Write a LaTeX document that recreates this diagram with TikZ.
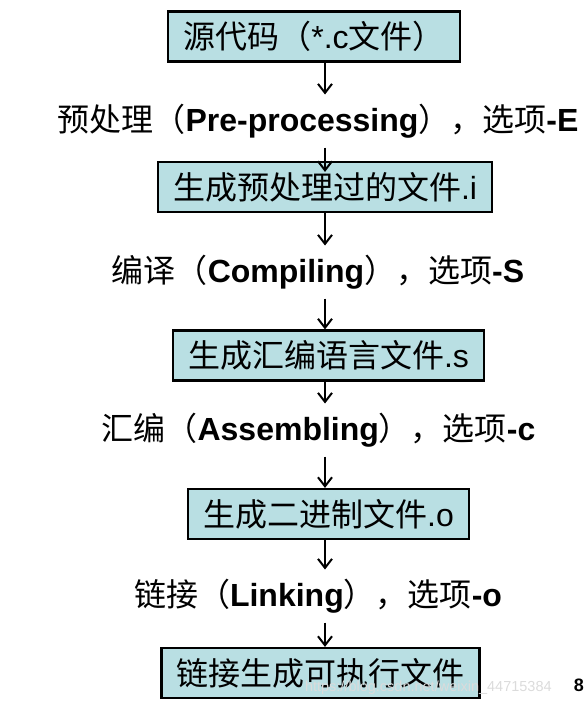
\documentclass[tikz,border=0pt]{standalone}
\usepackage{fontspec}
\setmainfont{Liberation Sans}
\newfontfamily\cjk{Noto Sans CJK SC}
\usepackage{tikz}
\usetikzlibrary{arrows.meta}
\usetikzlibrary{calc}
\definecolor{boxfill}{RGB}{185,223,227}
\newcommand{\zh}[1]{{\cjk #1}}

\begin{document}
\begin{tikzpicture}[x=1pt, y=-1pt, line width=2pt,
        node_style/.style={rectangle,draw=black,fill=boxfill,line width=2.2pt,minimum height=50pt,inner xsep=15pt,inner ysep=0pt,font=\fontsize{32}{36}\selectfont},
        label_style/.style={inner sep=0pt,minimum height=51pt,font=\fontsize{32}{36}\selectfont},
        edge_style/.style={draw=black, line width=2pt,-{Straight Barb[length=9pt,width=14pt]}}]

        \useasboundingbox (0,0) rectangle (585,704);

        \coordinate (ax) at (325,0);

        \node [node_style](n1) at (314,36.5) {\zh{源代码（}*.c\zh{文件）}};

        \node [label_style](l1) at (318,121) {\zh{预处理（}\textbf{Pre-processing}\zh{），选项}\textbf{-E}};

        \node [node_style](n2) at (325,187) {\zh{生成预处理过的文件}.i};

        \node [label_style](l2) at (318,272) {\zh{编译（}\textbf{Compiling}\zh{），选项}\textbf{-S}};

        \node [node_style](n3) at (328.5,355.5) {\zh{生成汇编语言文件}.s};

        \node [label_style](l3) at (318.5,430) {\zh{汇编（}\textbf{Assembling}\zh{），选项}\textbf{-c}};

        \node [node_style](n4) at (328.5,514) {\zh{生成二进制文件}.o};

        \node [label_style](l4) at (318,596) {\zh{链接（}\textbf{Linking}\zh{），选项}\textbf{-o}};

        \node [node_style](n5) at (320.5,673) {\zh{链接生成可执行文件}};

        % watermark and page number
        \node [anchor=base west, inner sep=0pt, text=black!14, font=\fontsize{14.5}{17}\selectfont](wm) at (304,691) {https://blog.csdn.net/weixin\_44715384};

        \node [anchor=base east, inner sep=0pt, font=\bfseries\fontsize{18}{22}\selectfont](pg) at (585,691) {8};

        \draw [edge_style] (n1.south -| ax) -- (l1.north -| ax);

        \draw [edge_style, shorten >=-11pt] (l1.south -| ax) -- (n2.north -| ax);

        \draw [edge_style] (n2.south -| ax) -- (l2.north -| ax);

        \draw [edge_style] (l2.south -| ax) -- (n3.north -| ax);

        \draw [edge_style] (n3.south -| ax) -- (l3.north -| ax);

        \draw [edge_style] (l3.south -| ax) -- (n4.north -| ax);

        \draw [edge_style] (n4.south -| ax) -- (l4.north -| ax);

        \draw [edge_style] (l4.south -| ax) -- (n5.north -| ax);

\end{tikzpicture}
\end{document}
